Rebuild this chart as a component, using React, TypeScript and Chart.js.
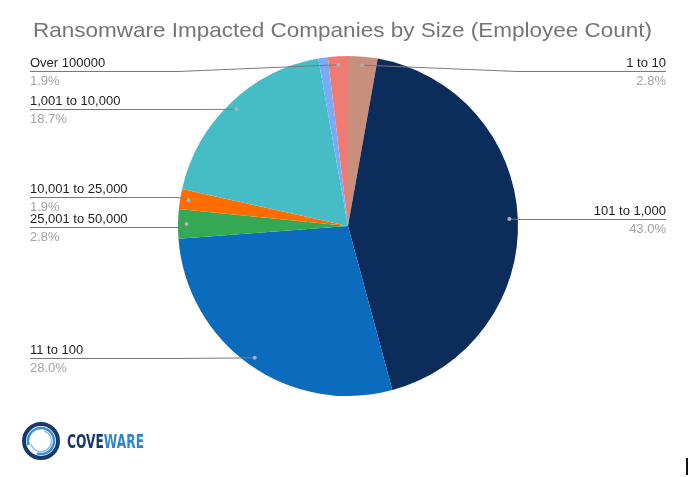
import React, { useEffect, useRef } from "react";
import { Chart, registerables } from "chart.js";

Chart.register(...registerables);

const TITLE = "Ransomware Impacted Companies by Size (Employee Count)";
const categories = [
  "1 to 10",
  "101 to 1,000",
  "11 to 100",
  "25,001 to 50,000",
  "10,001 to 25,000",
  "1,001 to 10,000",
  "50,001 to 100,000",
  "Over 100000",
];
const shares = [2.8, 43.0, 28.0, 2.8, 1.9, 18.7, 0.9, 1.9];
const sliceColors = [
  "#c98f7d",
  "#0c2c5c",
  "#0b6cbd",
  "#34a853",
  "#ff6d01",
  "#46bdc6",
  "#7baaf7",
  "#f07b72",
];

const labelPlugin = {
  id: "sheetLabels",
  afterDatasetsDraw(chart: any) {
    const ctx: CanvasRenderingContext2D = chart.ctx;
    const meta = chart.getDatasetMeta(0);
    const items: any[] = [];
    meta.data.forEach((arc: any, i: number) => {
      const v = shares[i];
      if (v < 1) return;
      const p = arc.getProps(["x", "y", "startAngle", "endAngle", "outerRadius"], true);
      const mid = (p.startAngle + p.endAngle) / 2;
      const ax = p.x + Math.cos(mid) * p.outerRadius * 0.95;
      const ay = p.y + Math.sin(mid) * p.outerRadius * 0.95;
      items.push({ i, ax, ay, ly: ay, cx: p.x, r: p.outerRadius, side: ax < p.x ? "L" : "R" });
    });
    const gap = 30;
    const minY = 71;
    ["L", "R"].forEach((side) => {
      const list = items.filter((it) => it.side === side).sort((a, b) => a.ay - b.ay);
      for (let iter = 0; iter < 50; iter++) {
        for (let j = 1; j < list.length; j++) {
          const d = list[j].ly - list[j - 1].ly;
          if (d < gap) {
            const s = (gap - d) / 2;
            list[j].ly += s;
            list[j - 1].ly -= s;
          }
        }
        list.forEach((it) => {
          if (it.ly < minY) it.ly = minY;
        });
      }
    });
    ctx.save();
    items.forEach((it) => {
      const left = it.side === "L";
      const tx = left ? 30 : 666;
      const ex = left ? it.cx - it.r : it.cx + it.r;
      ctx.strokeStyle = "#7a7a7a";
      ctx.lineWidth = 1;
      ctx.beginPath();
      ctx.moveTo(tx, Math.round(it.ly) + 0.5);
      ctx.lineTo(ex, Math.round(it.ly) + 0.5);
      ctx.lineTo(it.ax, it.ay);
      ctx.stroke();
      ctx.fillStyle = "#b0b0b0";
      ctx.beginPath();
      ctx.arc(it.ax, it.ay, 2, 0, Math.PI * 2);
      ctx.fill();
      ctx.textAlign = left ? "left" : "right";
      ctx.textBaseline = "alphabetic";
      ctx.font = "13px 'Liberation Sans', Arial, sans-serif";
      ctx.fillStyle = "#1f1f1f";
      ctx.fillText(categories[it.i], tx, it.ly - 4);
      ctx.fillStyle = "#a3a3a3";
      ctx.fillText(shares[it.i].toFixed(1) + "%", tx, it.ly + 14);
    });

    // title
    ctx.textAlign = "left";
    ctx.font = "21px 'Liberation Sans', Arial, sans-serif";
    ctx.fillStyle = "#757575";
    const tw = ctx.measureText(TITLE).width;
    ctx.save();
    ctx.translate(33, 37);
    ctx.scale(619 / tw, 1);
    ctx.fillText(TITLE, 0, 0);
    ctx.restore();

    // logo rings
    ctx.lineWidth = 4;
    ctx.strokeStyle = "#163a6e";
    ctx.beginPath();
    ctx.arc(41, 441, 17, 0, Math.PI * 2);
    ctx.stroke();
    ctx.lineWidth = 2.5;
    ctx.strokeStyle = "#3b8fd0";
    ctx.beginPath();
    ctx.arc(41, 441, 13, Math.PI * 0.9, Math.PI * 2.6);
    ctx.stroke();
    ctx.lineWidth = 1.5;
    ctx.strokeStyle = "#8fc0e6";
    ctx.beginPath();
    ctx.arc(41, 441, 10.5, Math.PI * 1.6, Math.PI * 2.9);
    ctx.stroke();

    // logo text
    ctx.font = "bold 19px 'DejaVu Sans', sans-serif";
    const w1 = ctx.measureText("COVE").width;
    const w2 = ctx.measureText("WARE").width;
    const sx = 77 / (w1 + w2);
    ctx.save();
    ctx.translate(67, 448);
    ctx.scale(sx, 1);
    ctx.fillStyle = "#163a6e";
    ctx.fillText("COVE", 0, 0);
    ctx.fillStyle = "#2f86c8";
    ctx.fillText("WARE", w1, 0);
    ctx.restore();

    ctx.fillStyle = "#111";
    ctx.fillRect(686, 458, 2, 17);
    ctx.restore();
  },
};

export default function App() {
  const ref = useRef<HTMLCanvasElement>(null);
  useEffect(() => {
    if (!ref.current) return;
    const chart = new Chart(ref.current, {
      type: "pie",
      data: {
        labels: categories,
        datasets: [
          {
            data: shares,
            backgroundColor: sliceColors,
            borderWidth: 0,
          },
        ],
      },
      options: {
        responsive: false,
        animation: false,
        layout: { padding: { top: 56, bottom: 81, left: 178, right: 176 } },
        plugins: {
          legend: { display: false },
          tooltip: { enabled: false },
          title: { display: false },
        },
      },
      plugins: [labelPlugin],
    });
    return () => chart.destroy();
  }, []);
  return (
    <div style={{ position: "fixed", left: 0, top: 0, width: 694, height: 477, background: "#fff" }}>
      <canvas ref={ref} width={694} height={477} />
    </div>
  );
}
